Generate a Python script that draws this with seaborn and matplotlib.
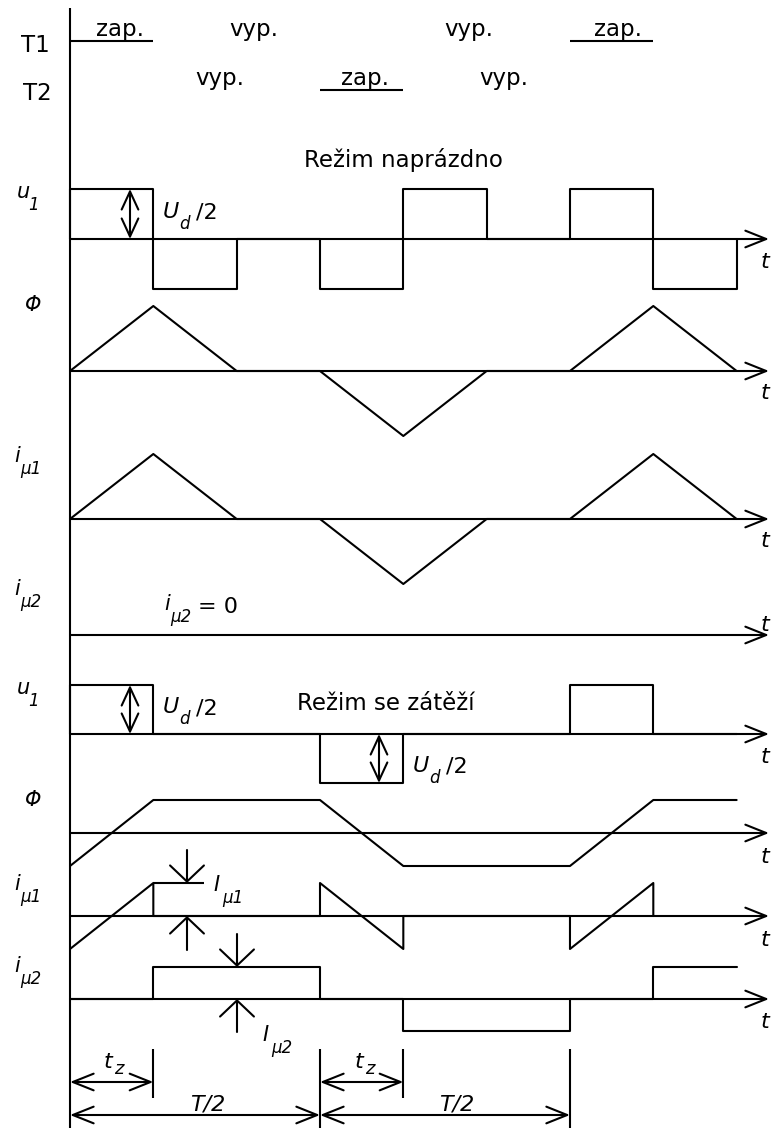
import matplotlib
matplotlib.use("Agg")
import matplotlib.pyplot as plt
import seaborn as sns
import pandas as pd

# ---- waveform data (time in units of t_z, T/2 = 3 t_z) ----
# transistor states
t1_on = [(0, 1), (6, 7)]
t2_on = [(3, 4)]
t1_states = ["zap.", "vyp.", "vyp.", "zap."]
t1_state_t = [0.6, 2.2, 4.79, 6.58]
t2_states = ["vyp.", "zap.", "vyp."]
t2_state_t = [1.8, 3.54, 5.2]

# no-load mode
u1_noload_t = [0, 0, 1, 1, 2, 2, 3, 3, 4, 4, 5, 5, 6, 6, 7, 7, 8, 8]
u1_noload_v = [0, 1, 1, -1, -1, 0, 0, -1, -1, 1, 1, 0, 0, 1, 1, -1, -1, 0]
phi_noload_t = [0, 1, 2, 3, 4, 5, 6, 7, 8]
phi_noload_v = [0, 1, 0, 0, -1, 0, 0, 1, 0]
imu1_noload_t = [0, 1, 2, 3, 4, 5, 6, 7, 8]
imu1_noload_v = [0, 1, 0, 0, -1, 0, 0, 1, 0]

# load mode
u1_load_t = [0, 0, 1, 1, 3, 3, 4, 4, 6, 6, 7, 7, 8]
u1_load_v = [0, 1, 1, 0, 0, -1, -1, 0, 0, 1, 1, 0, 0]
phi_load_t = [0, 1, 3, 4, 6, 7, 8]
phi_load_v = [-1, 1, 1, -1, -1, 1, 1]
imu1_load_t = [0, 1, 1, 3, 3, 4, 4, 6, 6, 7, 7]
imu1_load_v = [-1, 1, 0, 0, 1, -1, 0, 0, -1, 1, 0]
imu2_load_t = [0, 1, 1, 3, 3, 4, 4, 6, 6, 7, 7, 8]
imu2_load_v = [0, 0, 1, 1, 0, 0, -1, -1, 0, 0, 1, 1]

# ---- layout (vertical positions in pixels from top) ----
W, H = 773, 1128
X0 = 70.0          # pixel position of t = 0
UNIT = 83.33       # pixels per t_z
LW = 1.5
K = "black"

sns.set_theme(style="white")
plt.rcParams["font.family"] = ["DejaVu Sans"]

fig = plt.figure(figsize=(W / 100, H / 100), dpi=100)
ax = fig.add_axes([0, 0, 1, 1])


def tx(px):
    """time coordinate of a horizontal pixel position"""
    return (px - X0) / UNIT


def trace(tt, vv, base, amp):
    df = pd.DataFrame({"t": tt, "y": [base - amp * v for v in vv]})
    sns.lineplot(data=df, x="t", y="y", sort=False, estimator=None,
                 color=K, lw=LW, ax=ax)


def seg(x1, y1, x2, y2):
    ax.plot([x1, x2], [y1, y2], color=K, lw=LW, solid_capstyle="butt")


def arrow(x1, y1, x2, y2, style="->", hl=0.75, hw=0.3):
    ax.annotate("", xy=(x2, y2), xytext=(x1, y1),
                arrowprops=dict(arrowstyle=f"{style},head_length={hl},head_width={hw}",
                                lw=LW, color=K, shrinkA=0, shrinkB=0,
                                mutation_scale=20))


def txt(px, py, s, size=16, style="normal", ha="left", va="baseline"):
    ax.text(tx(px), py, s, fontsize=size, style=style, ha=ha, va=va, color=K)


def sublabel(px, py, main, sub, dx, dy, size=15, subsize=12):
    txt(px, py, main, size=size, style="italic")
    txt(px + dx, py + dy, sub, size=subsize, style="italic")


# vertical reference axis
seg(0, 8, 0, H)

# time axes with arrows
baselines = [239, 371, 519, 635, 734, 833, 916, 999]
t_label_y = [262, 393, 541, 625, 757, 857, 940, 1022]
for b, ty in zip(baselines, t_label_y):
    arrow(0, b, tx(769), b)
    txt(761, ty, "t", size=16, style="italic", va="center")

# transistor states
for a, b in t1_on:
    seg(a, 41, b, 41)
for a, b in t2_on:
    seg(a, 90, b, 90)
for s, t in zip(t1_states, t1_state_t):
    ax.text(t, 36, s, fontsize=16.5, ha="center", va="baseline", color=K)
for s, t in zip(t2_states, t2_state_t):
    ax.text(t, 85, s, fontsize=16.5, ha="center", va="baseline", color=K)
txt(35, 45, "T1", size=16.5, ha="center", va="center")
txt(37, 94, "T2", size=16.5, ha="center", va="center")

# no-load mode
txt(403, 160, "Režim naprázdno", size=16.5, ha="center", va="center")
trace(u1_noload_t, u1_noload_v, 239, 50)
trace(phi_noload_t, phi_noload_v, 371, 65)
trace(imu1_noload_t, imu1_noload_v, 519, 65)

arrow(tx(130), 239, tx(130), 189, style="<->", hl=0.65, hw=0.3)
sublabel(163, 218, "U", "d", 16, 11, size=16)
txt(196, 219, "/2", size=16)

sublabel(17, 198, "u", "1", 11, 12)
txt(25, 305, "Φ", size=15, style="italic", va="center")
sublabel(14, 462, "i", "μ1", 6, 12)
sublabel(14, 595, "i", "μ2", 6, 12)
sublabel(164, 610, "i", "μ2", 6, 12)
txt(198, 613, "= 0", size=16)

# load mode
txt(386, 703, "Režim se zátěží", size=16.5, ha="center", va="center")
trace(u1_load_t, u1_load_v, 734, 49)
trace(phi_load_t, phi_load_v, 833, 33)
trace(imu1_load_t, imu1_load_v, 916, 33)
trace(imu2_load_t, imu2_load_v, 999, 32)

arrow(tx(130), 734, tx(130), 685, style="<->", hl=0.65, hw=0.3)
sublabel(163, 713, "U", "d", 16, 11, size=16)
txt(196, 714, "/2", size=16)
arrow(tx(379), 734, tx(379), 783, style="<->", hl=0.65, hw=0.3)
sublabel(413, 772, "U", "d", 16, 11, size=16)
txt(446, 773, "/2", size=16)

sublabel(17, 694, "u", "1", 11, 12)
txt(25, 800, "Φ", size=15, style="italic", va="center")
sublabel(14, 890, "i", "μ1", 6, 12)
sublabel(14, 972, "i", "μ2", 6, 12)

# magnetising current step I_mu1
seg(1, 883, tx(204), 883)
arrow(tx(187), 850, tx(187), 883, hl=0.58, hw=0.61)
arrow(tx(187), 950, tx(187), 916, hl=0.58, hw=0.61)
sublabel(213, 891, "I", "μ1", 9, 12)

# current I_mu2
arrow(tx(237), 934, tx(237), 967, hl=0.58, hw=0.61)
arrow(tx(237), 1032, tx(237), 999, hl=0.58, hw=0.61)
sublabel(262, 1041, "I", "μ2", 9, 12)

# time dimensions
seg(1, 1049, 1, 1098)
seg(4, 1049, 4, 1098)
seg(3, 1049, 3, H)
seg(6, 1049, 6, H)
arrow(0, 1082, 1, 1082, style="<->")
arrow(3, 1082, 4, 1082, style="<->")
arrow(0, 1115, 3, 1115, style="<->")
arrow(3, 1115, 6, 1115, style="<->")
sublabel(104, 1068, "t", "z", 10, 6, size=16, subsize=13)
sublabel(355, 1068, "t", "z", 10, 6, size=16, subsize=13)
txt(208, 1110, "T/2", size=16, style="italic", ha="center")
txt(457, 1110, "T/2", size=16, style="italic", ha="center")

ax.set_xlim(tx(0), tx(W))
ax.set_ylim(H, 0)
ax.axis("off")
fig.savefig("out.png", dpi=100)
